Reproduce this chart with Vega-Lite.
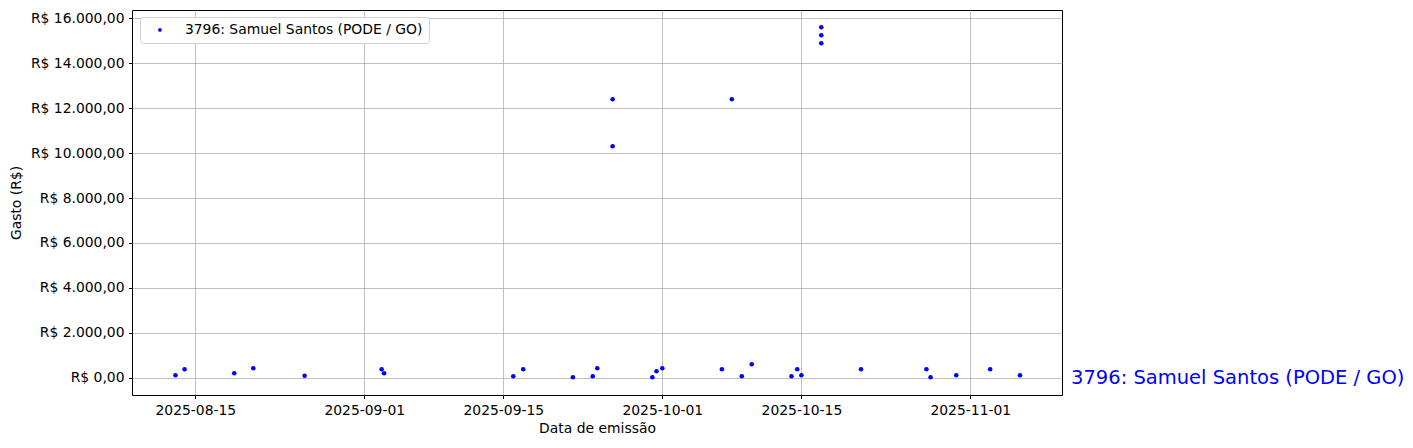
{
  "$schema": "https://vega.github.io/schema/vega-lite/v6.json",
  "width": 930,
  "height": 385,
  "autosize": {"type": "none"},
  "padding": {"left": 132, "top": 10, "right": 351, "bottom": 53},
  "background": "white",
  "config": {
    "font": "DejaVu Sans",
    "locale": {"number": {"decimal": ",", "thousands": ".", "grouping": [3], "currency": ["R$ ", ""]}},
    "view": {"stroke": "black", "strokeWidth": 1},
    "axis": {
      "labelFont": "DejaVu Sans", "labelFontSize": 13.9, "labelColor": "black",
      "titleFont": "DejaVu Sans", "titleFontSize": 13.9, "titleFontWeight": "normal", "titleColor": "black",
      "tickColor": "black", "tickSize": 3.5, "labelPadding": 4.5,
      "gridColor": "#b0b0b0", "gridWidth": 0.8, "domain": false
    }
  },
  "layer": [
    {
      "data": {"values": [
        {"data": "2025-08-13T00:00:00Z", "gasto": 120, "serie": "3796: Samuel Santos (PODE / GO)"},
        {"data": "2025-08-13T22:00:00Z", "gasto": 387, "serie": "3796: Samuel Santos (PODE / GO)"},
        {"data": "2025-08-18T22:00:00Z", "gasto": 209, "serie": "3796: Samuel Santos (PODE / GO)"},
        {"data": "2025-08-20T20:00:00Z", "gasto": 431, "serie": "3796: Samuel Santos (PODE / GO)"},
        {"data": "2025-08-26T00:00:00Z", "gasto": 102, "serie": "3796: Samuel Santos (PODE / GO)"},
        {"data": "2025-09-02T18:00:00Z", "gasto": 387, "serie": "3796: Samuel Santos (PODE / GO)"},
        {"data": "2025-09-03T00:00:00Z", "gasto": 209, "serie": "3796: Samuel Santos (PODE / GO)"},
        {"data": "2025-09-16T00:00:00Z", "gasto": 75, "serie": "3796: Samuel Santos (PODE / GO)"},
        {"data": "2025-09-17T00:00:00Z", "gasto": 387, "serie": "3796: Samuel Santos (PODE / GO)"},
        {"data": "2025-09-22T00:00:00Z", "gasto": 31, "serie": "3796: Samuel Santos (PODE / GO)"},
        {"data": "2025-09-24T00:00:00Z", "gasto": 75, "serie": "3796: Samuel Santos (PODE / GO)"},
        {"data": "2025-09-24T11:00:00Z", "gasto": 431, "serie": "3796: Samuel Santos (PODE / GO)"},
        {"data": "2025-09-26T00:00:00Z", "gasto": 12387, "serie": "3796: Samuel Santos (PODE / GO)"},
        {"data": "2025-09-26T00:00:00Z", "gasto": 10298, "serie": "3796: Samuel Santos (PODE / GO)"},
        {"data": "2025-09-30T00:00:00Z", "gasto": 31, "serie": "3796: Samuel Santos (PODE / GO)"},
        {"data": "2025-09-30T10:00:00Z", "gasto": 298, "serie": "3796: Samuel Santos (PODE / GO)"},
        {"data": "2025-10-01T00:00:00Z", "gasto": 431, "serie": "3796: Samuel Santos (PODE / GO)"},
        {"data": "2025-10-07T00:00:00Z", "gasto": 387, "serie": "3796: Samuel Santos (PODE / GO)"},
        {"data": "2025-10-08T00:00:00Z", "gasto": 12387, "serie": "3796: Samuel Santos (PODE / GO)"},
        {"data": "2025-10-09T00:00:00Z", "gasto": 75, "serie": "3796: Samuel Santos (PODE / GO)"},
        {"data": "2025-10-10T00:00:00Z", "gasto": 609, "serie": "3796: Samuel Santos (PODE / GO)"},
        {"data": "2025-10-14T00:00:00Z", "gasto": 75, "serie": "3796: Samuel Santos (PODE / GO)"},
        {"data": "2025-10-14T14:00:00Z", "gasto": 387, "serie": "3796: Samuel Santos (PODE / GO)"},
        {"data": "2025-10-15T00:00:00Z", "gasto": 120, "serie": "3796: Samuel Santos (PODE / GO)"},
        {"data": "2025-10-17T00:00:00Z", "gasto": 15587, "serie": "3796: Samuel Santos (PODE / GO)"},
        {"data": "2025-10-17T00:00:00Z", "gasto": 15231, "serie": "3796: Samuel Santos (PODE / GO)"},
        {"data": "2025-10-17T00:00:00Z", "gasto": 14876, "serie": "3796: Samuel Santos (PODE / GO)"},
        {"data": "2025-10-21T00:00:00Z", "gasto": 387, "serie": "3796: Samuel Santos (PODE / GO)"},
        {"data": "2025-10-27T14:00:00Z", "gasto": 387, "serie": "3796: Samuel Santos (PODE / GO)"},
        {"data": "2025-10-28T00:00:00Z", "gasto": 31, "serie": "3796: Samuel Santos (PODE / GO)"},
        {"data": "2025-10-30T14:00:00Z", "gasto": 120, "serie": "3796: Samuel Santos (PODE / GO)"},
        {"data": "2025-11-03T00:00:00Z", "gasto": 387, "serie": "3796: Samuel Santos (PODE / GO)"},
        {"data": "2025-11-06T00:00:00Z", "gasto": 120, "serie": "3796: Samuel Santos (PODE / GO)"}
      ]},
      "mark": {"type": "point", "filled": true, "shape": "circle", "size": 21, "opacity": 1},
      "encoding": {
        "x": {
          "field": "data", "type": "temporal", "title": "Data de emissão",
          "scale": {"type": "utc", "domain": [
            {"year": 2025, "month": 8, "date": 8, "hours": 15, "utc": true},
            {"year": 2025, "month": 11, "date": 10, "hours": 5, "minutes": 30, "utc": true}
          ], "nice": false},
          "axis": {
            "values": [
              {"year": 2025, "month": 8, "date": 15, "utc": true},
              {"year": 2025, "month": 9, "date": 1, "utc": true},
              {"year": 2025, "month": 9, "date": 15, "utc": true},
              {"year": 2025, "month": 10, "date": 1, "utc": true},
              {"year": 2025, "month": 10, "date": 15, "utc": true},
              {"year": 2025, "month": 11, "date": 1, "utc": true}
            ],
            "labelExpr": "utcFormat(datum.value, '%Y-%m-%d')", "titlePadding": 5
          }
        },
        "y": {
          "field": "gasto", "type": "quantitative", "title": "Gasto (R$)",
          "scale": {"domain": [-756, 16356], "nice": false, "zero": false},
          "axis": {"values": [0, 2000, 4000, 6000, 8000, 10000, 12000, 14000, 16000], "format": "$,.2f", "titlePadding": 7}
        },
        "color": {
          "field": "serie", "type": "nominal",
          "scale": {"range": ["#0000ff"]},
          "legend": {
            "title": null, "orient": "none", "legendX": 8, "legendY": 7,
            "fillColor": "white", "strokeColor": "#d0d0d0", "cornerRadius": 3,
            "padding": 6, "labelFontSize": 13.9, "labelFont": "DejaVu Sans", "labelColor": "black", "labelLimit": 0,
            "symbolType": "circle", "symbolSize": 14, "symbolOffset": 7, "labelOffset": 18
          }
        }
      }
    },
    {
      "data": {"values": [{"rotulo": "3796: Samuel Santos (PODE / GO)", "gasto": 0}]},
      "mark": {"type": "text", "align": "left", "baseline": "middle", "dx": 9, "fontSize": 19.5, "fontWeight": "normal", "color": "#0000ff", "font": "DejaVu Sans"},
      "encoding": {
        "x": {"datum": {"year": 2025, "month": 11, "date": 10, "hours": 5, "minutes": 30, "utc": true}, "type": "temporal"},
        "y": {"field": "gasto", "type": "quantitative"},
        "text": {"field": "rotulo"}
      }
    }
  ]
}
